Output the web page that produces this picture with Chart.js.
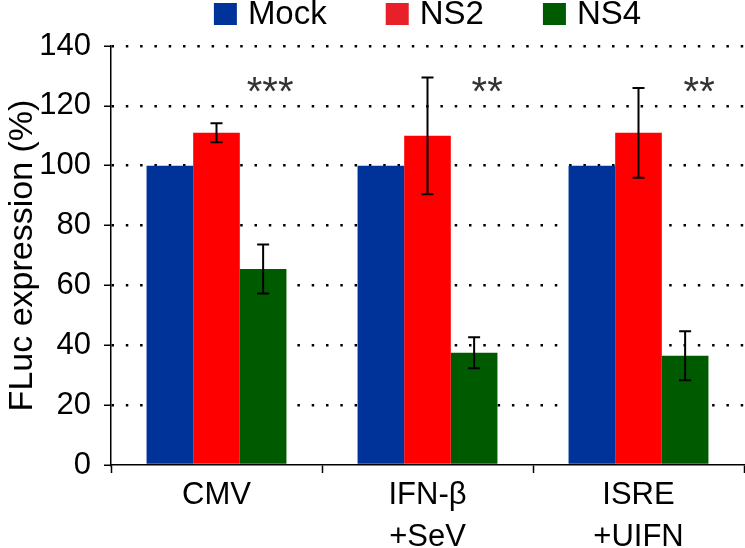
<html>
<head>
  <meta charset="utf-8">
  <title>FLuc expression</title>
  <script src="https://cdn.jsdelivr.net/npm/chart.js"></script>
  <style>
    body { margin: 0; background: #fff; }
  </style>
</head>
<body>
  <canvas id="fluc" width="745" height="548"></canvas>
  <script>
    // data
    let categories = [['CMV'], ['IFN-β', '+SeV'], ['ISRE', '+UIFN']];
    let seriesNames = ['Mock', 'NS2', 'NS4'];
    let mock = [100, 100, 100];
    let ns2 = [111, 110, 111];
    let ns4 = [65.5, 37.5, 36.5];
    let mockErr = [0, 0, 0];
    let ns2Err = [3.2, 19.5, 15];
    let ns4Err = [8.2, 5.2, 8.2];
    let stars = ['***', '**', '**'];
    let starLevel = 128;
    let yTicks = [0, 20, 40, 60, 80, 100, 120, 140];

    let colors = ['#00339a', '#ff0000', '#005a00'];
    let legendColors = ['#00339a', '#e8202a', '#005a00'];
    let fontFam = '"Liberation Sans", Arial, sans-serif';
    let starShift = [7, 13, 14];

    // error bars, significance stars and the legend row
    const extras = {
      id: 'extras',
      afterDatasetsDraw(chart) {
        const ctx = chart.ctx;
        const y = chart.scales.y;
        const errs = [mockErr, ns2Err, ns4Err];
        ctx.save();
        ctx.strokeStyle = '#000';
        ctx.lineWidth = 2;
        chart.data.datasets.forEach((ds, i) => {
          chart.getDatasetMeta(i).data.forEach((bar, j) => {
            let e = errs[i][j];
            if (!e) return;
            let top = y.getPixelForValue(ds.data[j] + e);
            let bot = y.getPixelForValue(ds.data[j] - e);
            ctx.beginPath();
            ctx.moveTo(bar.x, top); ctx.lineTo(bar.x, bot);
            ctx.moveTo(bar.x - 6, top); ctx.lineTo(bar.x + 6, top);
            ctx.moveTo(bar.x - 6, bot); ctx.lineTo(bar.x + 6, bot);
            ctx.stroke();
          });
        });
        ctx.fillStyle = '#333';
        ctx.font = '40px ' + fontFam;
        ctx.textAlign = 'center';
        ctx.textBaseline = 'alphabetic';
        chart.getDatasetMeta(2).data.forEach((bar, j) => {
          ctx.fillText(stars[j], bar.x + starShift[j], y.getPixelForValue(starLevel) + 23);
        });

        // legend
        ctx.font = '33px ' + fontFam;
        ctx.textAlign = 'left';
        ctx.textBaseline = 'middle';
        let widths = seriesNames.map(n => 23 + 11 + ctx.measureText(n).width);
        let gap = 59;
        let total = widths.reduce((a, b) => a + b, 0) + gap * (widths.length - 1);
        let x = (chart.chartArea.left + chart.chartArea.right) / 2 - total / 2;
        seriesNames.forEach((n, i) => {
          ctx.fillStyle = legendColors[i];
          ctx.fillRect(x, 3, 23, 22);
          ctx.fillStyle = '#000';
          ctx.fillText(n, x + 34, 15);
          x += widths[i] + gap;
        });
        ctx.restore();
      }
    };

    new Chart(document.getElementById('fluc'), {
      type: 'bar',
      data: {
        labels: categories,
        datasets: [
          { label: seriesNames[0], data: mock, backgroundColor: colors[0] },
          { label: seriesNames[1], data: ns2, backgroundColor: colors[1] },
          { label: seriesNames[2], data: ns4, backgroundColor: colors[2] }
        ]
      },
      options: {
        responsive: false,
        animation: false,
        layout: { padding: { top: 46, right: 1, bottom: 0, left: 0 } },
        datasets: { bar: { categoryPercentage: 0.663, barPercentage: 1 } },
        plugins: {
          legend: { display: false },
          tooltip: { enabled: false }
        },
        scales: {
          x: {
            afterFit(scale) { scale.height = 83; },
            grid: {
              display: true,
              offset: true,
              drawOnChartArea: false,
              drawTicks: true,
              tickLength: 8,
              tickColor: '#000',
              tickWidth: 1.5
            },
            border: { color: '#000', width: 1.5 },
            ticks: {
              color: '#000',
              font: { size: 31, family: fontFam, lineHeight: 1.36 },
              padding: 1
            }
          },
          y: {
            min: 0,
            max: 140,
            afterFit(scale) { scale.width = 111; },
            afterBuildTicks(scale) { scale.ticks = yTicks.map(v => ({ value: v })); },
            grid: {
              color: ctx => ctx.tick && ctx.tick.value === 0 ? 'rgba(0,0,0,0)' : '#000',
              lineWidth: 2.5,
              drawTicks: true,
              tickLength: 7,
              tickColor: '#000',
              tickWidth: 1.5
            },
            border: { color: '#000', width: 1.5, dash: [2.5, 11.8] },
            ticks: {
              color: '#000',
              font: { size: 31, family: fontFam },
              padding: 13
            },
            title: {
              display: true,
              text: 'FLuc expression (%)',
              color: '#000',
              font: { size: 34, family: fontFam },
              padding: { top: 2, bottom: 0 }
            }
          }
        }
      },
      plugins: [extras]
    });
  </script>
</body>
</html>
